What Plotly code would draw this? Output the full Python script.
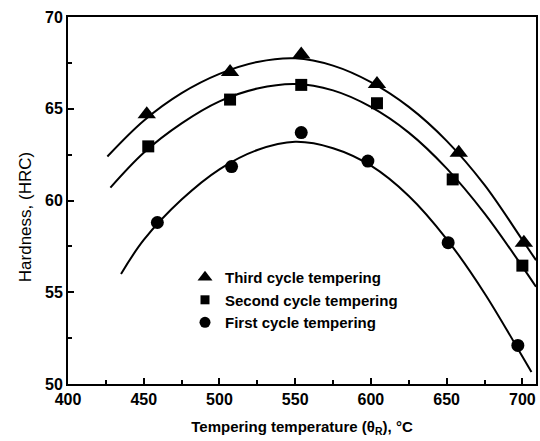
import plotly.graph_objects as go

# Measured points
temp_third = [452, 507, 554, 604, 658, 701]
hard_third = [64.7, 67.0, 67.95, 66.35, 62.6, 57.7]
temp_second = [453, 507, 554, 604, 654, 700]
hard_second = [62.95, 65.5, 66.3, 65.3, 61.15, 56.45]
temp_first = [459, 508, 554, 598, 651, 697]
hard_first = [58.8, 61.85, 63.7, 62.15, 57.7, 52.1]

# Fitted curves
fit_x_third = [426, 450, 475, 500, 525, 550, 575, 600, 625, 650, 675, 700, 709]
fit_y_third = [62.4, 64.35, 65.85, 66.9, 67.55, 67.75, 67.35, 66.45, 65.1, 63.25, 60.85, 57.85, 56.75]
fit_x_second = [428, 450, 475, 500, 525, 550, 575, 600, 625, 650, 675, 700, 709]
fit_y_second = [60.7, 62.6, 64.2, 65.4, 66.1, 66.35, 66.0, 65.1, 63.7, 61.75, 59.3, 56.4, 55.3]
fit_x_first = [435, 450, 475, 500, 525, 550, 575, 600, 625, 650, 675, 700, 706]
fit_y_first = [56.0, 57.85, 60.05, 61.7, 62.75, 63.2, 62.85, 61.9, 60.25, 57.9, 54.95, 51.5, 50.65]

x_ticks = [400, 450, 500, 550, 600, 650, 700]
y_ticks = [50, 55, 60, 65, 70]
legend_names = ["Third cycle tempering", "Second cycle tempering", "First cycle tempering"]

FONT = "Liberation Sans, Arial, sans-serif"
fig = go.Figure()

for fx, fy in [(fit_x_third, fit_y_third), (fit_x_second, fit_y_second), (fit_x_first, fit_y_first)]:
    fig.add_trace(go.Scatter(x=fx, y=fy, mode="lines", line=dict(color="black", width=2, shape="spline", smoothing=1),
                             showlegend=False, hoverinfo="skip"))

fig.add_trace(go.Scatter(x=temp_third, y=hard_third, mode="markers", showlegend=False,
                         marker=dict(symbol="triangle-up", size=16, color="black")))
fig.add_trace(go.Scatter(x=temp_second, y=hard_second, mode="markers", showlegend=False,
                         marker=dict(symbol="square", size=12, color="black")))
fig.add_trace(go.Scatter(x=temp_first, y=hard_first, mode="markers", showlegend=False,
                         marker=dict(symbol="circle", size=13, color="black")))

# legend entries (smaller symbols, as in the reference legend)
for name, sym, sz in zip(legend_names, ["triangle-up", "square", "circle"], [13, 9, 11]):
    fig.add_trace(go.Scatter(x=[None], y=[None], mode="markers", name=name,
                             marker=dict(symbol=sym, size=sz, color="black")))

fig.update_layout(
    width=540, height=441,
    margin=dict(l=68, r=2, t=17, b=57),
    paper_bgcolor="white", plot_bgcolor="white",
    font=dict(family=FONT, color="black"),
    showlegend=True,
    legend=dict(x=0.25, y=0.335, xanchor="left", yanchor="top", bgcolor="rgba(0,0,0,0)",
                font=dict(size=15, weight="bold"), itemwidth=30),
    annotations=[dict(text="Hardness, (HRC)", xref="paper", yref="paper", x=-0.0915, y=0.455,
                      xanchor="center", yanchor="middle", textangle=-90, showarrow=False,
                      font=dict(size=17, family=FONT, color="black"))],
)
fig.update_xaxes(
    range=[400, 709], tickvals=x_ticks, showgrid=False, zeroline=False,
    showline=True, linecolor="black", linewidth=2, mirror=True,
    ticks="inside", ticklen=6, tickwidth=2, tickcolor="black",
    minor=dict(ticks="inside", dtick=25, ticklen=4, tickwidth=2, tickcolor="black"),
    tickfont=dict(size=16, weight="bold"),
    title=dict(text="Tempering temperature (θ<sub>R</sub>), °C", font=dict(size=15, weight="bold"), standoff=14),
)
fig.update_yaxes(
    range=[50, 70], tickvals=y_ticks, showgrid=False, zeroline=False,
    showline=True, linecolor="black", linewidth=2, mirror=True,
    ticks="inside", ticklen=6, tickwidth=2, tickcolor="black",
    minor=dict(ticks="inside", dtick=2.5, ticklen=4, tickwidth=2, tickcolor="black"),
    tickfont=dict(size=16, weight="bold"),
)

fig.write_html("out.html")
